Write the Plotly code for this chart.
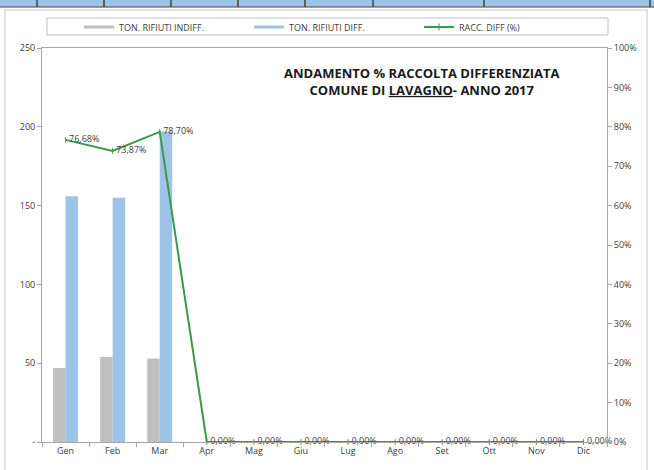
import plotly.graph_objects as go

months = ["Gen", "Feb", "Mar", "Apr", "Mag", "Giu", "Lug", "Ago", "Set", "Ott", "Nov", "Dic"]
ton_indiff = [47, 54, 53, None, None, None, None, None, None, None, None, None]
ton_diff = [156, 155, 197, None, None, None, None, None, None, None, None, None]
racc_diff = [0.7668, 0.7387, 0.7870, 0, 0, 0, 0, 0, 0, 0, 0, 0]
left_ticks = [0, 50, 100, 150, 200, 250]
left_ticktext = ["-", "50", "100", "150", "200", "250"]
series_names = ["TON. RIFIUTI INDIFF.", "TON. RIFIUTI DIFF.", "RACC. DIFF (%)"]

def pct_it(v):
    return f"{v*100:.2f}%".replace(".", ",")

FONT = "Open Sans"
TXT = "#404040"
GRAY = "#BFBFBF"
BLUE = "#9DC3E6"
GREEN = "#3A9A4C"

fig = go.Figure()
fig.add_trace(go.Bar(x=months, y=ton_indiff, name=series_names[0], showlegend=False,
                     marker=dict(color=GRAY, line=dict(width=0))))
fig.add_trace(go.Bar(x=months, y=ton_diff, name=series_names[1], showlegend=False,
                     marker=dict(color=BLUE, line=dict(width=0))))
fig.add_trace(go.Scatter(x=months, y=racc_diff, name=series_names[2], yaxis="y2",
                         mode="lines+markers+text", showlegend=False,
                         line=dict(color=GREEN, width=2),
                         marker=dict(color=GREEN, size=4, symbol="line-ns",
                                     line=dict(color=GREEN, width=1)),
                         text=[pct_it(v) for v in racc_diff],
                         textposition="middle right",
                         textfont=dict(family=FONT, size=9, color=TXT),
                         cliponaxis=False))
for nm, col, mk in [(series_names[0], GRAY, False), (series_names[1], BLUE, False),
                    (series_names[2], GREEN, True)]:
    fig.add_trace(go.Scatter(x=[None], y=[None], name=nm, mode="lines+markers" if mk else "lines",
                             line=dict(color=col, width=2 if mk else 3),
                             marker=dict(color=col, size=5, symbol="line-ns",
                                         line=dict(color=col, width=1)),
                             showlegend=True))

L, R, T, B = 42, 607, 48, 442
W, H = R - L, B - T
def px(x):
    return (x - L) / W
def py(y):
    return (B - y) / H

shapes = []
shapes.append(dict(type="rect", xref="paper", yref="paper",
                   x0=px(5), x1=px(647), y0=py(472), y1=py(10),
                   line=dict(color="#D9D9D9", width=1.5), fillcolor="rgba(0,0,0,0)", layer="below"))
shapes.append(dict(type="rect", xref="paper", yref="paper",
                   x0=px(-2), x1=px(656), y0=py(7), y1=py(-2),
                   line=dict(width=0), fillcolor=BLUE, layer="above"))
shapes.append(dict(type="line", xref="paper", yref="paper",
                   x0=px(0), x1=px(654), y0=py(7), y1=py(7),
                   line=dict(color="#404040", width=1.2)))
for dx in [37, 104, 171, 238, 305, 373, 484, 650]:
    shapes.append(dict(type="line", xref="paper", yref="paper",
                       x0=px(dx), x1=px(dx), y0=py(7), y1=py(0),
                       line=dict(color="#404040", width=1.5)))
shapes.append(dict(type="rect", xref="paper", yref="paper",
                   x0=px(47), x1=px(608), y0=py(35), y1=py(18),
                   line=dict(color="#BFBFBF", width=1), fillcolor="white", layer="below"))

fig.update_layout(
    width=654, height=470,
    margin=dict(l=L, r=654 - R, t=T, b=470 - B, autoexpand=False),
    paper_bgcolor="white", plot_bgcolor="white",
    font=dict(family=FONT, size=9, color=TXT),
    barmode="group", bargap=0.47, bargroupgap=0,
    showlegend=True,
    legend=dict(orientation="h", x=px(334), xanchor="center", y=py(27), yanchor="middle",
                bgcolor="rgba(0,0,0,0)", font=dict(family=FONT, size=9, color=TXT),
                itemwidth=30, entrywidth=125, entrywidthmode="pixels",
                traceorder="normal"),
    xaxis=dict(type="category", showgrid=False, showline=True, linecolor="#A6A6A6", linewidth=1,
               mirror=True, ticks="outside", ticklen=4, tickcolor="#A6A6A6", tickson="boundaries",
               tickfont=dict(family=FONT, size=9, color=TXT), range=[-0.5, 11.5]),
    yaxis=dict(range=[0, 250], tickvals=left_ticks, ticktext=left_ticktext, showgrid=False,
               showline=True, linecolor="#A6A6A6", linewidth=1, ticks="outside", ticklen=4,
               tickcolor="#A6A6A6", zeroline=False,
               tickfont=dict(family=FONT, size=9, color=TXT)),
    yaxis2=dict(range=[0, 1], overlaying="y", side="right", tickformat=".0%", dtick=0.1,
                showgrid=False, showline=True, linecolor="#A6A6A6", linewidth=1,
                ticks="outside", ticklen=4, tickcolor="#A6A6A6", zeroline=False,
                tickfont=dict(family=FONT, size=9, color=TXT)),
    shapes=shapes,
    annotations=[dict(xref="paper", yref="paper", x=px(422), y=py(81), xanchor="center",
                      yanchor="middle", showarrow=False, align="center",
                      text="<b>ANDAMENTO % RACCOLTA DIFFERENZIATA<br>COMUNE DI <u>LAVAGNO</u>- ANNO 2017</b>",
                      font=dict(family=FONT, size=13, color="#1a1a1a"))],
)

fig.write_html("out.html", config={"displayModeBar": False},
               post_script="document.body.style.margin='0';document.body.style.padding='0';")
